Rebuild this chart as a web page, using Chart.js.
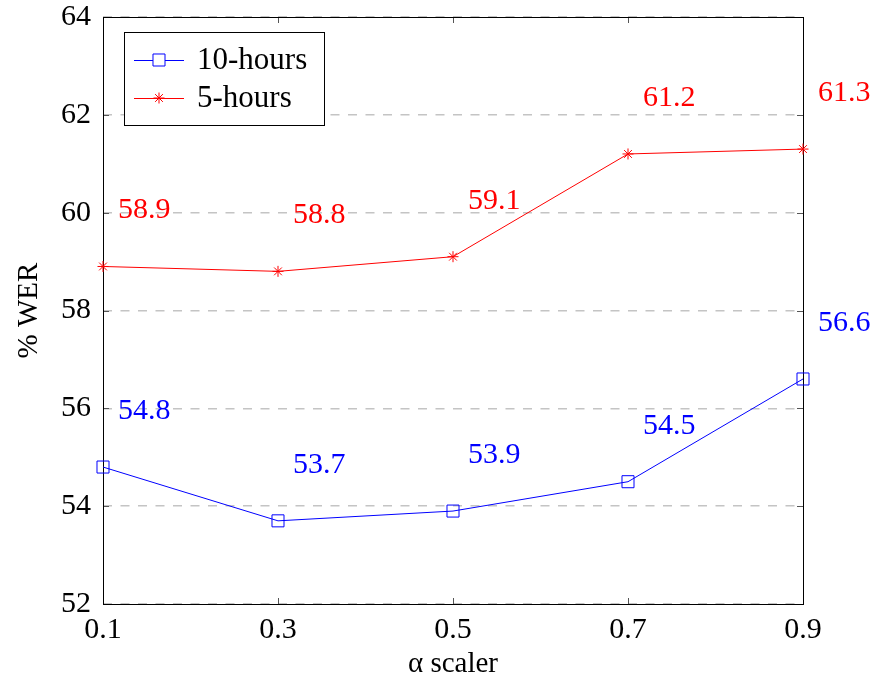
<!DOCTYPE html>
<html>
<head>
<meta charset="utf-8">
<script src="https://cdn.jsdelivr.net/npm/chart.js@4.4.0/dist/chart.umd.min.js"></script>
<style>
  body { margin: 0; background: #fff; }
  #wrap { width: 877px; height: 682px; }
</style>
</head>
<body>
<div id="wrap"><canvas id="werChart" width="877" height="682"></canvas></div>
<script>
const alphaValues = [0.1, 0.3, 0.5, 0.7, 0.9];
const tenHours = [54.8, 53.7, 53.9, 54.5, 56.6];
const fiveHours = [58.9, 58.8, 59.1, 61.2, 61.3];
const seriesNames = ['10-hours', '5-hours'];
const yTicks = [52, 54, 56, 58, 60, 62, 64];

const FONT = '"Liberation Serif", serif';

function toPoints(vals) {
    return alphaValues.map((a, i) => ({ x: a, y: vals[i] }));
}

// value labels next to each point, like pgfplots nodes near coords
const valueLabels = {
    id: 'valueLabels',
    afterDatasetsDraw(chart) {
        const { ctx, scales } = chart;
        ctx.save();
        ctx.font = '30px ' + FONT;
        ctx.textAlign = 'left';
        ctx.textBaseline = 'middle';
        chart.data.datasets.forEach(ds => {
            ctx.fillStyle = ds.borderColor;
            ds.data.forEach(p => {
                const x = scales.x.getPixelForValue(p.x) + 15;
                const y = scales.y.getPixelForValue(p.y) - 56;
                ctx.fillText(p.y.toFixed(1), x, y);
            });
        });
        ctx.restore();
    }
};

// axis frame, inward ticks and the boxed legend
const frame = {
    id: 'frame',
    beforeDatasetsDraw(chart) {
        const { ctx, chartArea: a, scales } = chart;
        ctx.save();
        ctx.strokeStyle = '#555';
        ctx.lineWidth = 1;
        ctx.beginPath();
        yTicks.forEach(v => {
            const y = Math.round(scales.y.getPixelForValue(v)) + 0.5;
            ctx.moveTo(a.left, y); ctx.lineTo(a.left + 6, y);
            ctx.moveTo(a.right, y); ctx.lineTo(a.right - 6, y);
        });
        alphaValues.forEach(v => {
            const x = Math.round(scales.x.getPixelForValue(v)) + 0.5;
            ctx.moveTo(x, a.bottom); ctx.lineTo(x, a.bottom - 6);
            ctx.moveTo(x, a.top); ctx.lineTo(x, a.top + 6);
        });
        ctx.stroke();
        ctx.strokeStyle = '#000';
        ctx.strokeRect(Math.round(a.left) + 0.5, Math.round(a.top) + 0.5,
            Math.round(a.right - a.left), Math.round(a.bottom - a.top));
        ctx.restore();
    },
    afterDraw(chart) {
        const { ctx } = chart;
        ctx.save();
        // legend box
        const lx = 124, ly = 32, lw = 200, lh = 93;
        ctx.fillStyle = '#fff';
        ctx.fillRect(lx, ly, lw, lh);
        ctx.strokeStyle = '#000';
        ctx.lineWidth = 1;
        ctx.strokeRect(lx + 0.5, ly + 0.5, lw, lh);
        ctx.font = '31px ' + FONT;
        ctx.textBaseline = 'middle';
        ctx.textAlign = 'left';
        chart.data.datasets.forEach((ds, i) => {
            const y = ly + 28 + i * 38;
            ctx.strokeStyle = ds.borderColor;
            ctx.lineWidth = 1;
            ctx.beginPath();
            ctx.moveTo(lx + 10, y + 0.5);
            ctx.lineTo(lx + 60, y + 0.5);
            ctx.stroke();
            Chart.helpers.drawPoint(ctx, {
                pointStyle: ds.pointStyle, radius: ds.pointRadius, borderWidth: 1
            }, lx + 35, y);
            ctx.fillStyle = '#000';
            ctx.fillText(ds.label, lx + 73, y + 1);
        });
        ctx.restore();
    }
};

new Chart(document.getElementById('werChart'), {
    type: 'line',
    data: {
        datasets: [{
            label: seriesNames[0],
            data: toPoints(tenHours),
            borderColor: '#0000ff',
            backgroundColor: 'rgba(0,0,0,0)',
            borderWidth: 1,
            pointStyle: 'rect',
            pointRadius: 8.5,
            pointBorderWidth: 1,
            clip: false
        }, {
            label: seriesNames[1],
            data: toPoints(fiveHours),
            borderColor: '#ff0000',
            backgroundColor: 'rgba(0,0,0,0)',
            borderWidth: 1,
            pointStyle: 'star',
            pointRadius: 5.5,
            pointBorderWidth: 1,
            clip: false
        }]
    },
    options: {
        responsive: false,
        animation: false,
        layout: { padding: { top: 17, right: 74, left: 0, bottom: 0 } },
        plugins: {
            legend: { display: false },
            tooltip: { enabled: false }
        },
        scales: {
            x: {
                type: 'linear',
                min: 0.1,
                max: 0.9,
                afterFit: s => {
                    s.height = 78;
                    s.paddingLeft = 0; s.paddingRight = 0;
                },
                afterBuildTicks: s => { s.ticks = alphaValues.map(v => ({ value: v })); },
                grid: { display: false },
                border: { display: false },
                ticks: {
                    color: '#000',
                    font: { family: FONT, size: 30 },
                    padding: 0,
                    callback: v => v.toFixed(1)
                },
                title: {
                    display: true,
                    text: 'α scaler',
                    color: '#000',
                    font: { family: FONT, size: 29 },
                    padding: { top: 0, bottom: 0 }
                }
            },
            y: {
                min: 52,
                max: 64,
                afterFit: s => {
                    s.width = 103;
                    s.paddingTop = 0; s.paddingBottom = 0;
                },
                afterBuildTicks: s => { s.ticks = yTicks.map(v => ({ value: v })); },
                grid: {
                    color: '#c4c4c4',
                    lineWidth: 1.4,
                    drawTicks: false
                },
                border: { display: false, dash: [9, 8.5] },
                ticks: {
                    color: '#000',
                    font: { family: FONT, size: 30 },
                    padding: 12
                },
                title: {
                    display: true,
                    text: '% WER',
                    color: '#000',
                    font: { family: FONT, size: 29 },
                    padding: { top: 12, bottom: 0 }
                }
            }
        }
    },
    plugins: [valueLabels, frame]
});
</script>
</body>
</html>
